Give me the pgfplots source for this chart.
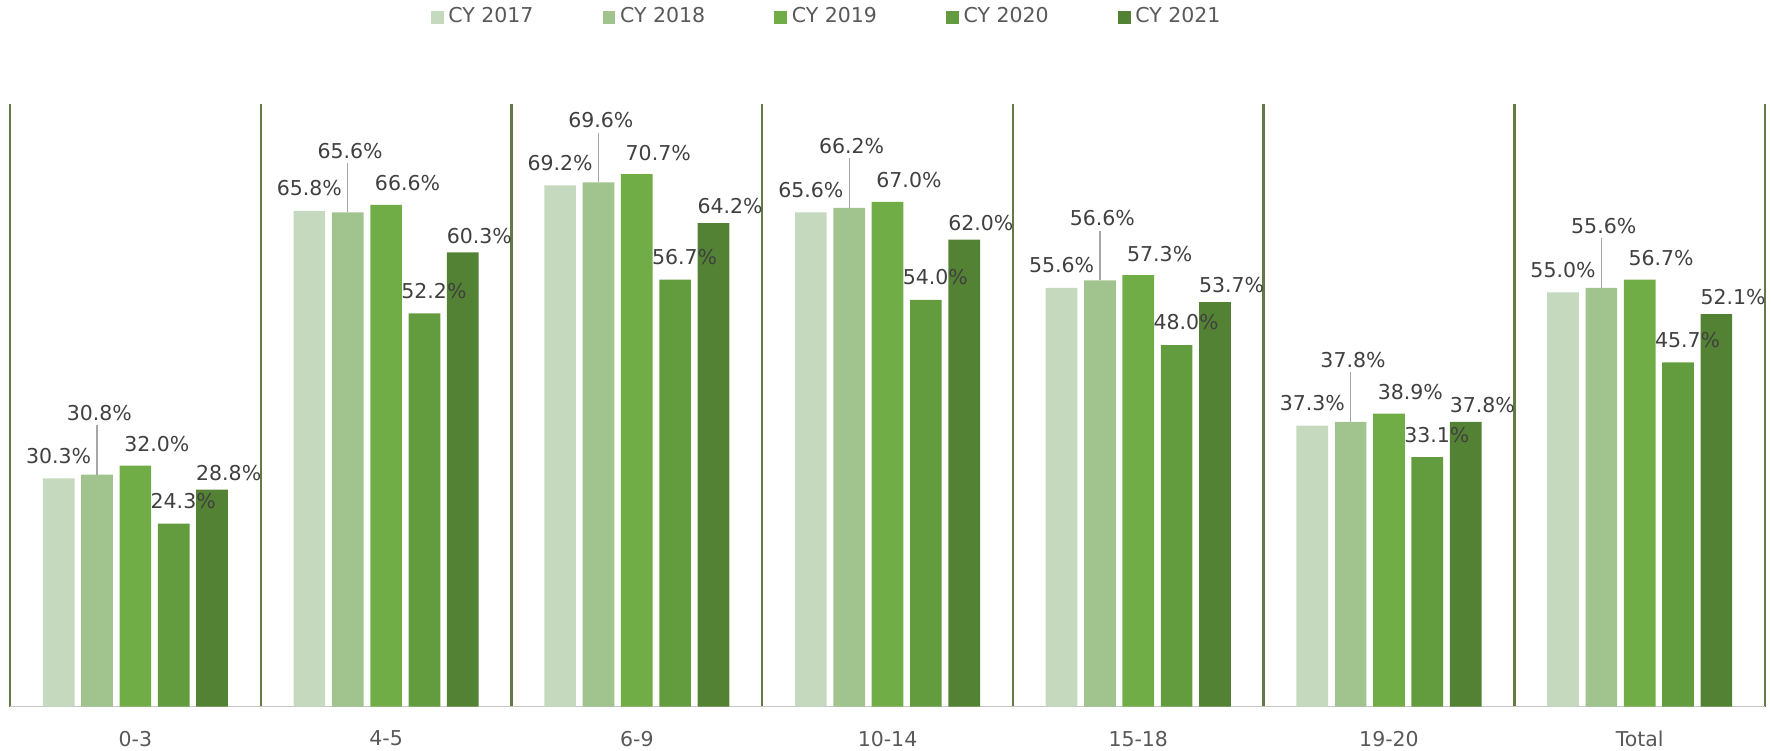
\documentclass[border=0pt]{standalone}
\usepackage{fontspec}
\setmainfont{DejaVu Sans}
\usepackage{pgfplots}
\pgfplotsset{compat=1.18}
\definecolor{cA}{HTML}{C5D9BE}
\definecolor{cB}{HTML}{A1C48F}
\definecolor{cC}{HTML}{70AD47}
\definecolor{cD}{HTML}{639C3F}
\definecolor{cE}{HTML}{538234}
\definecolor{sep}{HTML}{647A45}
\definecolor{lbl}{HTML}{404040}
\definecolor{tk}{HTML}{595959}
\newcommand{\lfont}{\fontsize{8.6}{10}\selectfont}
\begin{document}
\begin{tikzpicture}
\begin{axis}[
    width=737pt, height=253pt,
    scale only axis,
    ybar=2.8pt,
    bar width=13.3pt,
    ymin=0, ymax=80,
    xmin=-0.5, xmax=6.5,
    xtick={0,...,6},
    xticklabels={0-3,4-5,6-9,10-14,15-18,19-20,Total},
    xticklabel style={font=\lfont, text=tk, anchor=center, yshift=-13.5pt},
    ytick=\empty,
    major tick length=0pt,
    minor xtick={-0.5,0.5,...,6.5},
    minor tick length=0pt,
    xminorgrids,
    minor x grid style={sep, line width=1pt},
    axis y line=none,
    axis x line*=bottom,
    x axis line style={gray!45, line width=0.6pt, -},
    /pgf/number format/assume math mode=true,
    nodes near coords={\pgfmathprintnumber[fixed,fixed zerofill,precision=1]{\pgfplotspointmeta}\%},
    every node near coord/.append style={font=\lfont, text=lbl, anchor=center},
    legend columns=5,
    legend style={draw=none, font=\lfont, text=tk, at={(0.5,1)}, anchor=center,
        xshift=-25pt, yshift=36.5pt,
        /tikz/every even column/.append style={column sep=27pt}},
    legend image code/.code={\fill[#1] (0pt,-2.7pt) rectangle (5.4pt,2.7pt);},
]
\addplot[fill=cA, draw=none, every node near coord/.append style={yshift=9.5pt}]
  coordinates {(0,30.3) (1,65.8) (2,69.2) (3,65.6) (4,55.6) (5,37.3) (6,55.0)};
\addplot[fill=cB, draw=none, every node near coord/.append style={xshift=1pt, yshift=26pt},
    error bars/.cd, y dir=plus, y fixed=6.6, error mark=none,
    error bar style={gray!70, line width=0.5pt}]
  coordinates {(0,30.8) (1,65.6) (2,69.6) (3,66.2) (4,56.6) (5,37.8) (6,55.6)};
\addplot[fill=cC, draw=none, every node near coord/.append style={xshift=9pt, yshift=9pt}]
  coordinates {(0,32.0) (1,66.6) (2,70.7) (3,67.0) (4,57.3) (5,38.9) (6,56.7)};
\addplot[fill=cD, draw=none, every node near coord/.append style={xshift=4pt, yshift=9.5pt}]
  coordinates {(0,24.3) (1,52.2) (2,56.7) (3,54.0) (4,48.0) (5,33.1) (6,45.7)};
\addplot[fill=cE, draw=none, every node near coord/.append style={xshift=7pt, yshift=7pt}]
  coordinates {(0,28.8) (1,60.3) (2,64.2) (3,62.0) (4,53.7) (5,37.8) (6,52.1)};
\legend{CY 2017,CY 2018,CY 2019,CY 2020,CY 2021}
\end{axis}
\pgfresetboundingbox
\path[use as bounding box] ([xshift=-4.2pt,yshift=-18.5pt]current axis.south west)
    rectangle ([xshift=2.5pt,yshift=43.7pt]current axis.north east);
\end{tikzpicture}
\end{document}
